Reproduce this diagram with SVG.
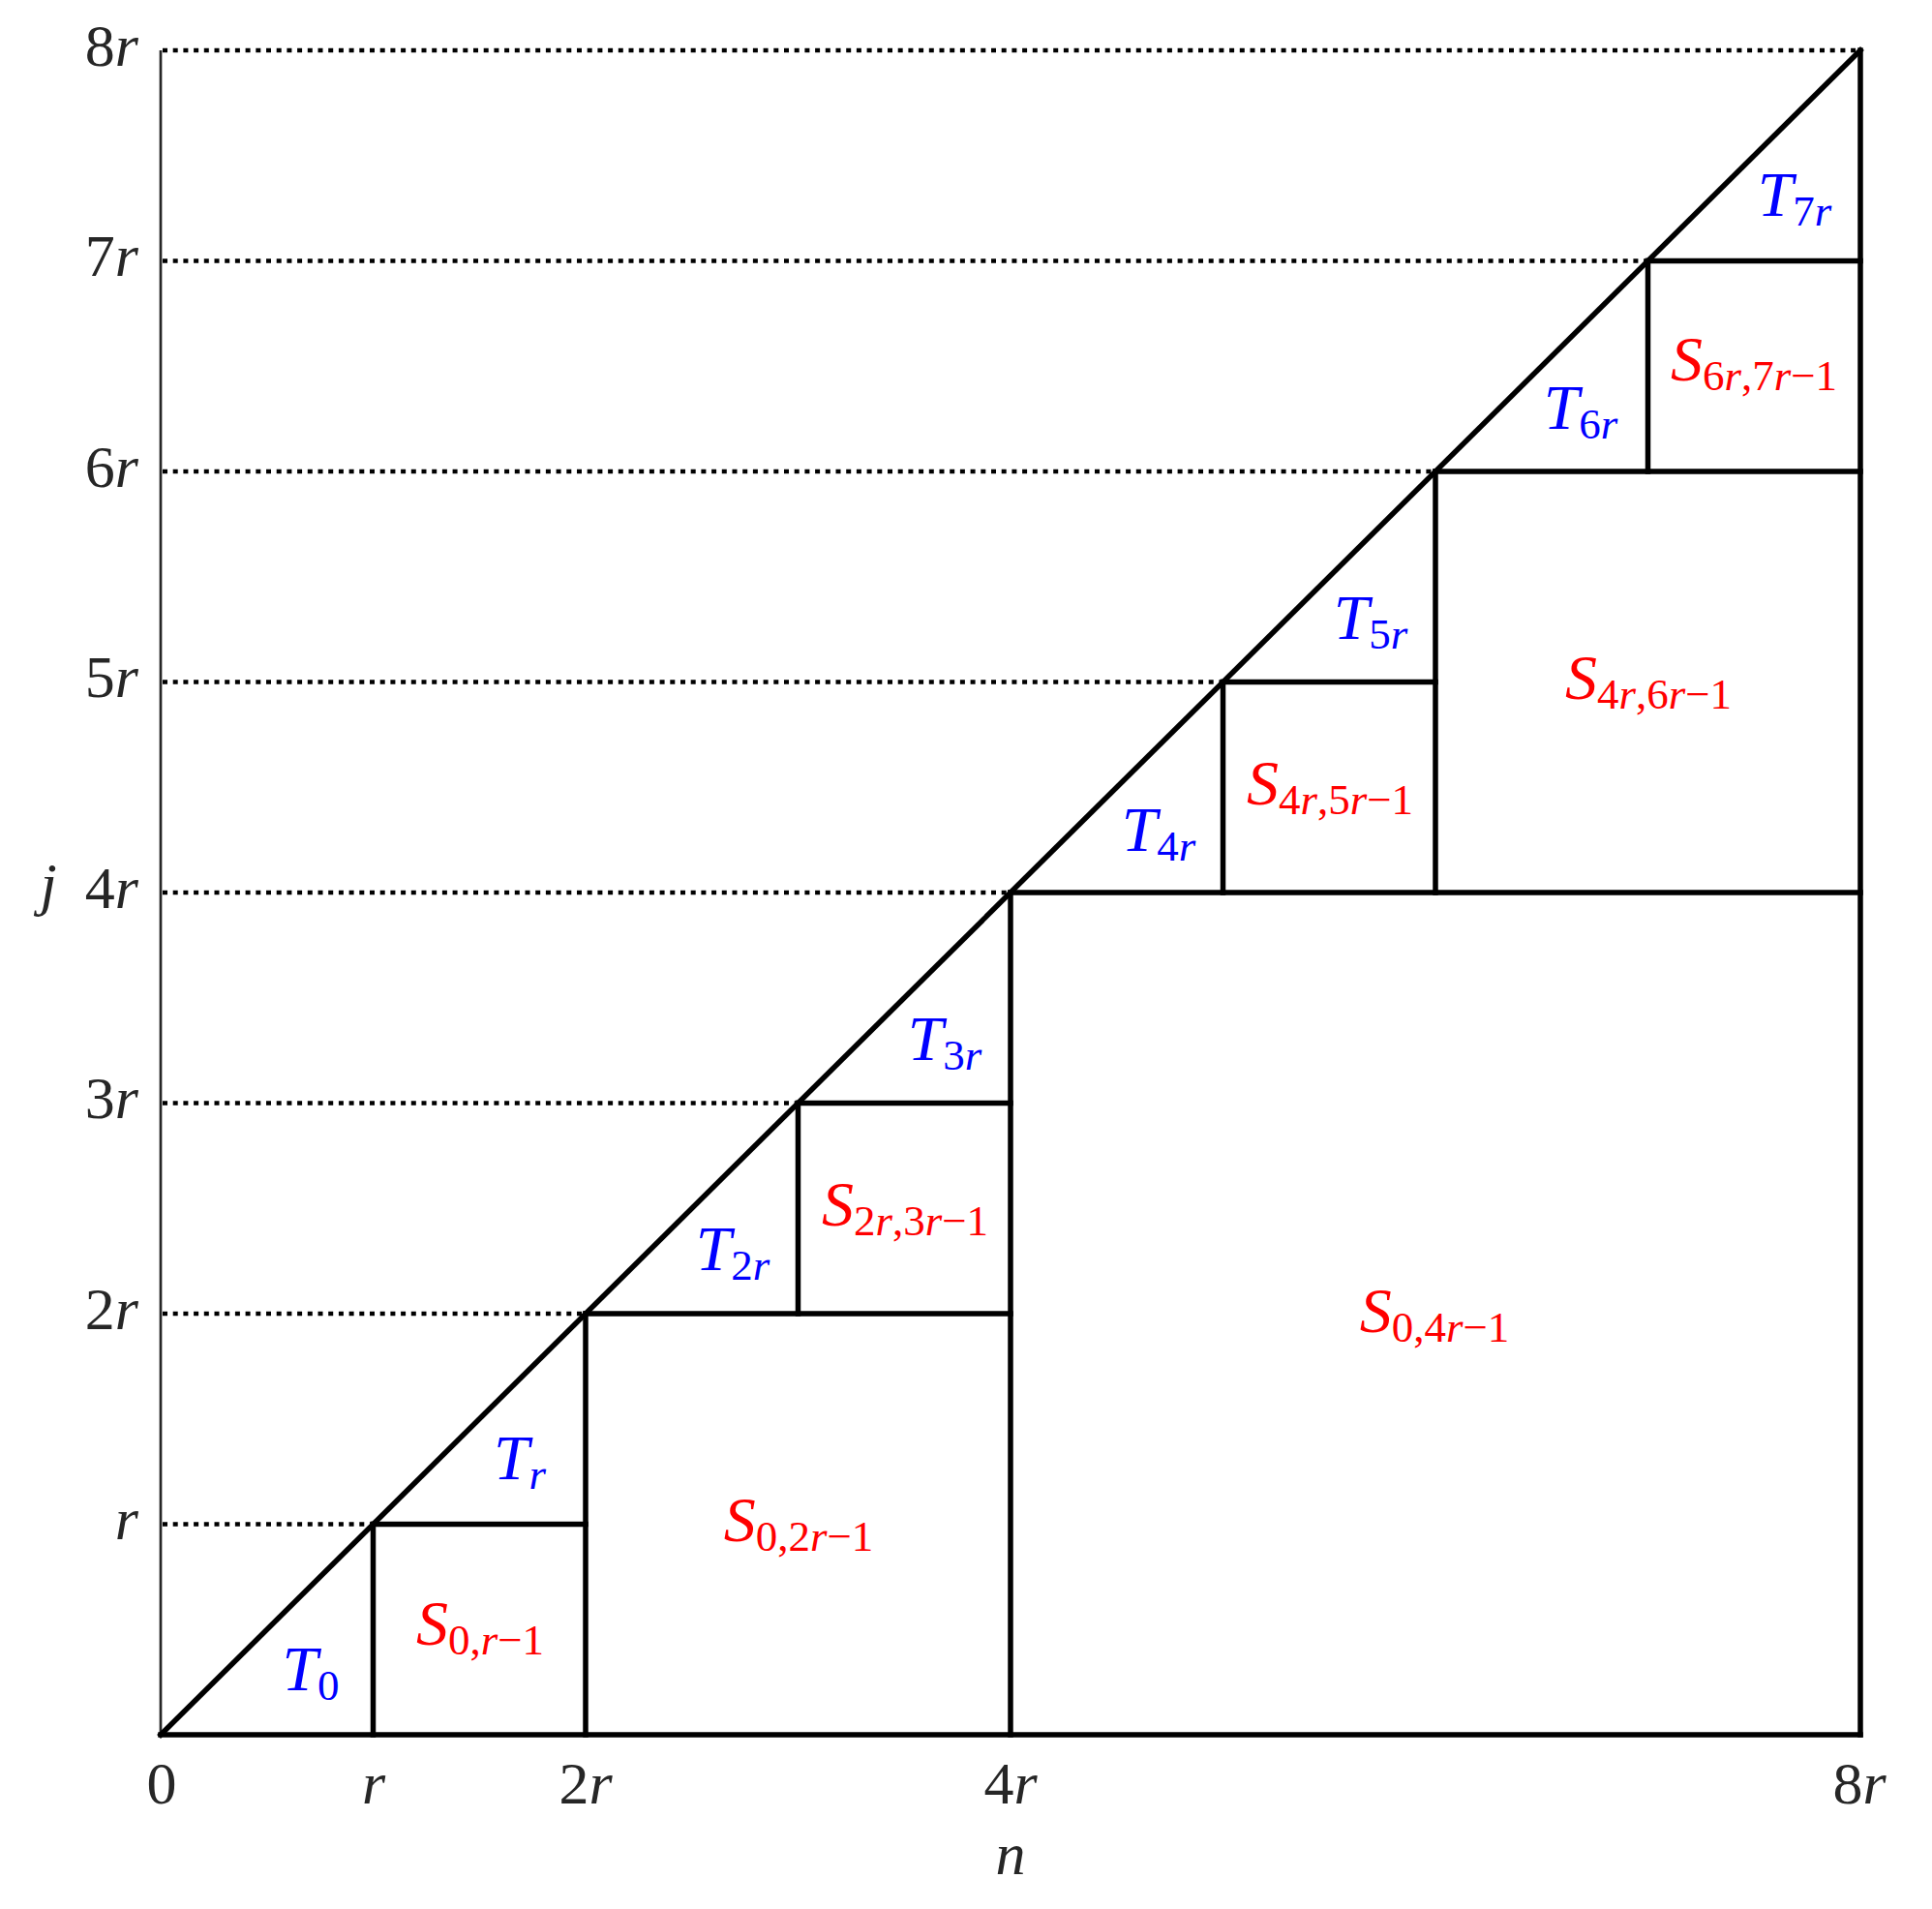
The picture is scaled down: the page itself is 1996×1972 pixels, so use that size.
<svg xmlns="http://www.w3.org/2000/svg" width="1996" height="1972" viewBox="0 0 1996 1972">
<style>
.tick{font-family:"Liberation Serif",serif;font-size:62px;fill:#262626}
.it{font-style:italic}
.sub{font-size:45px}
.blue{font-family:"Liberation Serif",serif;font-size:66px;fill:#0000ff}
.red{font-family:"Liberation Serif",serif;font-size:66px;fill:#ff0000}
.solid{stroke:#000;stroke-width:5.5;fill:none;stroke-linecap:square}
.dot{stroke:#000;stroke-width:4.5;stroke-dasharray:5 5.7;fill:none}
.axis{stroke:#262626;stroke-width:2.7;fill:none}
</style>
<rect width="1996" height="1972" fill="#fff"/>
<g id="axes">
<line class="axis" x1="166" y1="52" x2="166" y2="1792"/>
</g>
<g id="connectors">
<line class="dot" x1="168" y1="1574.5" x2="385.5" y2="1574.5"/>
<line class="dot" x1="168" y1="1357" x2="605" y2="1357"/>
<line class="dot" x1="168" y1="1139.5" x2="824.5" y2="1139.5"/>
<line class="dot" x1="168" y1="922" x2="1044" y2="922"/>
<line class="dot" x1="168" y1="704.5" x2="1263.5" y2="704.5"/>
<line class="dot" x1="168" y1="487" x2="1483" y2="487"/>
<line class="dot" x1="168" y1="269.5" x2="1702.5" y2="269.5"/>
<line class="dot" x1="168" y1="52" x2="1922" y2="52"/>
<line class="solid" x1="166" y1="1792" x2="1922" y2="52"/>
<line class="solid" x1="166" y1="1792" x2="1922" y2="1792"/>
<line class="solid" x1="1922" y1="1792" x2="1922" y2="52"/>
<line class="solid" x1="385.5" y1="1574.5" x2="605" y2="1574.5"/>
<line class="solid" x1="385.5" y1="1792" x2="385.5" y2="1574.5"/>
<line class="solid" x1="605" y1="1357" x2="1044" y2="1357"/>
<line class="solid" x1="605" y1="1792" x2="605" y2="1357"/>
<line class="solid" x1="824.5" y1="1139.5" x2="1044" y2="1139.5"/>
<line class="solid" x1="824.5" y1="1357" x2="824.5" y2="1139.5"/>
<line class="solid" x1="1044" y1="1792" x2="1044" y2="922"/>
<line class="solid" x1="1044" y1="922" x2="1922" y2="922"/>
<line class="solid" x1="1263.5" y1="704.5" x2="1483" y2="704.5"/>
<line class="solid" x1="1263.5" y1="922" x2="1263.5" y2="704.5"/>
<line class="solid" x1="1483" y1="922" x2="1483" y2="487"/>
<line class="solid" x1="1483" y1="487" x2="1922" y2="487"/>
<line class="solid" x1="1702.5" y1="269.5" x2="1922" y2="269.5"/>
<line class="solid" x1="1702.5" y1="487" x2="1702.5" y2="269.5"/>
</g>
<g id="yticks" class="tick" text-anchor="end">
<text x="143" y="1590" class="it">r</text>
<text x="143" y="1373">2<tspan class="it">r</tspan></text>
<text x="143" y="1155">3<tspan class="it">r</tspan></text>
<text x="143" y="938">4<tspan class="it">r</tspan></text>
<text x="143" y="720">5<tspan class="it">r</tspan></text>
<text x="143" y="503">6<tspan class="it">r</tspan></text>
<text x="143" y="285">7<tspan class="it">r</tspan></text>
<text x="143" y="68">8<tspan class="it">r</tspan></text>
</g>
<g id="xticks" class="tick" text-anchor="middle">
<text x="167" y="1863">0</text>
<text x="386" y="1863" class="it">r</text>
<text x="605" y="1863">2<tspan class="it">r</tspan></text>
<text x="1044" y="1863">4<tspan class="it">r</tspan></text>
<text x="1921" y="1863">8<tspan class="it">r</tspan></text>
</g>
<g id="axislabels" class="tick">
<text x="1044" y="1936" text-anchor="middle" class="it">n</text>
<text x="50" y="934" text-anchor="middle" class="it">j</text>
</g>
<g id="T0" class="blue" text-anchor="middle"><text x="321" y="1746"><tspan class="it">T</tspan><tspan class="sub" dy="10">0</tspan></text></g>
<g id="Tr" class="blue" text-anchor="middle"><text x="537" y="1528"><tspan class="it">T</tspan><tspan class="sub it" dy="10">r</tspan></text></g>
<g id="T2r" class="blue" text-anchor="middle"><text x="757" y="1312"><tspan class="it">T</tspan><tspan class="sub" dy="10">2<tspan class="it">r</tspan></tspan></text></g>
<g id="T3r" class="blue" text-anchor="middle"><text x="976" y="1095"><tspan class="it">T</tspan><tspan class="sub" dy="10">3<tspan class="it">r</tspan></tspan></text></g>
<g id="T4r" class="blue" text-anchor="middle"><text x="1197" y="879"><tspan class="it">T</tspan><tspan class="sub" dy="10">4<tspan class="it">r</tspan></tspan></text></g>
<g id="T5r" class="blue" text-anchor="middle"><text x="1416" y="660"><tspan class="it">T</tspan><tspan class="sub" dy="10">5<tspan class="it">r</tspan></tspan></text></g>
<g id="T6r" class="blue" text-anchor="middle"><text x="1633" y="443"><tspan class="it">T</tspan><tspan class="sub" dy="10">6<tspan class="it">r</tspan></tspan></text></g>
<g id="T7r" class="blue" text-anchor="middle"><text x="1854" y="223"><tspan class="it">T</tspan><tspan class="sub" dy="10">7<tspan class="it">r</tspan></tspan></text></g>
<g id="S0r1" class="red" text-anchor="middle"><text x="496" y="1699"><tspan class="it">S</tspan><tspan class="sub" dy="10">0,<tspan class="it">r</tspan>−1</tspan></text></g>
<g id="S02r1" class="red" text-anchor="middle"><text x="825" y="1592"><tspan class="it">S</tspan><tspan class="sub" dy="10">0,2<tspan class="it">r</tspan>−1</tspan></text></g>
<g id="S2r3r1" class="red" text-anchor="middle"><text x="935" y="1266"><tspan class="it">S</tspan><tspan class="sub" dy="10">2<tspan class="it">r</tspan>,3<tspan class="it">r</tspan>−1</tspan></text></g>
<g id="S04r1" class="red" text-anchor="middle"><text x="1482" y="1376"><tspan class="it">S</tspan><tspan class="sub" dy="10">0,4<tspan class="it">r</tspan>−1</tspan></text></g>
<g id="S4r5r1" class="red" text-anchor="middle"><text x="1374" y="831"><tspan class="it">S</tspan><tspan class="sub" dy="10">4<tspan class="it">r</tspan>,5<tspan class="it">r</tspan>−1</tspan></text></g>
<g id="S4r6r1" class="red" text-anchor="middle"><text x="1703" y="722"><tspan class="it">S</tspan><tspan class="sub" dy="10">4<tspan class="it">r</tspan>,6<tspan class="it">r</tspan>−1</tspan></text></g>
<g id="S6r7r1" class="red" text-anchor="middle"><text x="1812" y="393"><tspan class="it">S</tspan><tspan class="sub" dy="10">6<tspan class="it">r</tspan>,7<tspan class="it">r</tspan>−1</tspan></text></g>
</svg>
